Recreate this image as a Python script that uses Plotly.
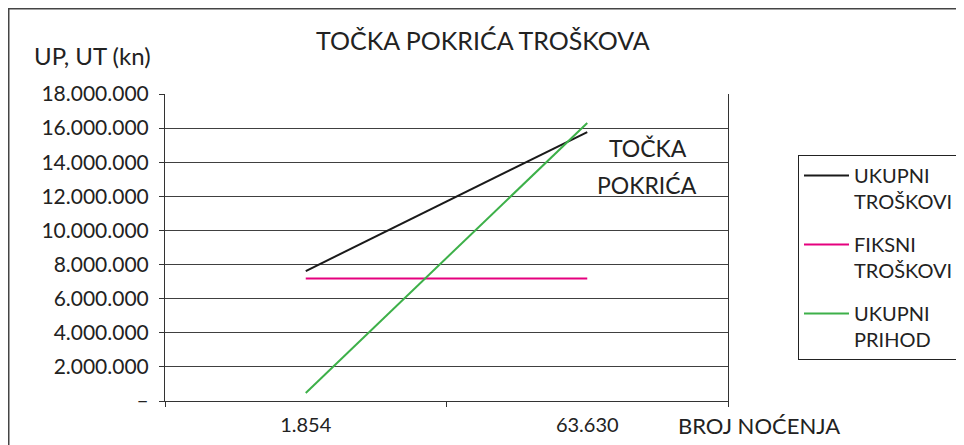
import plotly.graph_objects as go

categories = ["1.854", "63.630"]
ukupni_troskovi = [7620000, 15770000]
fiksni_troskovi = [7180000, 7180000]
ukupni_prihod = [470000, 16300000]
series_names = ["UKUPNI<br>TROŠKOVI", "FIKSNI<br>TROŠKOVI", "UKUPNI<br>PRIHOD"]
series_colors = ["#1a1a1a", "#E5007E", "#3DB049"]
y_ticks = [0, 2000000, 4000000, 6000000, 8000000, 10000000, 12000000, 14000000, 16000000, 18000000]
y_ticktext = ["–" if v == 0 else f"{v:,}".replace(",", ".") for v in y_ticks]

FONT = "Lato, 'Open Sans', sans-serif"
OFF = 8  # page body margin
W, H = 964 - OFF, 445 - OFF
# plot area in screenshot pixels
PL, PR, PT, PB = 165, 728, 94, 401
L, R, T, B = PL - OFF, W - (PR - OFF), PT - OFF, H - (PB - OFF)
pw, ph = PR - PL, PB - PT

fig = go.Figure()
for i, (name, vals, col) in enumerate(zip(series_names, [ukupni_troskovi, fiksni_troskovi, ukupni_prihod], series_colors)):
    fig.add_trace(go.Scatter(x=categories, y=vals, mode="lines", name=name,
                             legendgroup=f"g{i}",
                             line=dict(color=col, width=2)))

def px_x(p):
    return (p - PL) / pw

def px_y(p):
    return (PB - p) / ph

def ann(text, x, y, size):
    return dict(text=text, x=px_x(x), y=px_y(y), xref="paper", yref="paper",
                xanchor="center", yanchor="middle", showarrow=False,
                font=dict(size=size, family=FONT, color="#222"))

fig.update_layout(
    width=W, height=H,
    margin=dict(l=L, r=R, t=T, b=B, autoexpand=False),
    paper_bgcolor="white", plot_bgcolor="white",
    font=dict(family=FONT, size=20, color="#222"),
    showlegend=True,
    legend=dict(x=px_x(798), y=px_y(155), xanchor="left", yanchor="top",
                bordercolor="#222", borderwidth=1, bgcolor="white",
                font=dict(size=20, family=FONT, color="#222"),
                valign="top", itemwidth=45, traceorder="grouped", tracegroupgap=14),
    xaxis=dict(type="category", range=[-0.5, 1.5], tickson="boundaries",
               ticks="outside", ticklen=5, tickcolor="#333", showgrid=False,
               showline=True, linecolor="#333", linewidth=1,
               ticklabelstandoff=6,
               tickfont=dict(size=20, family=FONT, color="#222"), zeroline=False),
    yaxis=dict(range=[0, 18000000], tickvals=y_ticks, ticktext=y_ticktext,
               ticks="outside", ticklen=5, tickcolor="#333",
               showgrid=True, gridcolor="#404040", gridwidth=1,
               showline=True, linecolor="#333", linewidth=1, mirror=True,
               ticklabelstandoff=6,
               zeroline=False, tickfont=dict(size=21, family=FONT, color="#222")),
    annotations=[
        ann("TOČKA POKRIĆA TROŠKOVA", 483, 40, 25),
        ann("UP, UT (kn)", 92, 56, 24),
        ann("BROJ NOĆENJA", 759, 425, 22),
        ann("TOČKA", 648, 148, 23),
        ann("POKRIĆA", 647, 185, 23),
    ],
    shapes=[
        dict(type="line", xref="paper", yref="paper", x0=px_x(8.5), x1=px_x(8.5),
             y0=px_y(8), y1=px_y(460), line=dict(color="#444", width=2)),
        dict(type="line", xref="paper", yref="paper", x0=px_x(8), x1=px_x(980),
             y0=px_y(8.5), y1=px_y(8.5), line=dict(color="#444", width=2)),
    ],
)

fig.write_html("out.html")
